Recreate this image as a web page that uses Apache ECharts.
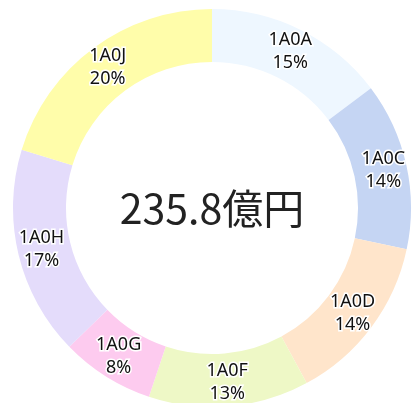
<!DOCTYPE html>
<html>
<head>
<meta charset="utf-8">
<script src="https://cdn.jsdelivr.net/npm/echarts@6/dist/echarts.min.js"></script>
<style>
  html, body { margin: 0; padding: 0; background: #fff; }
  #chart { width: 415px; height: 403px; }
</style>
</head>
<body>
<div id="chart"></div>
<script>
// 億円
const categories = ['1A0A', '1A0C', '1A0D', '1A0F', '1A0G', '1A0H', '1A0J'];
const values = [34.7, 32.1, 32.5, 30.7, 17.9, 40.1, 47.8];
const colors = ['#EEF7FF', '#C5D5F3', '#FFE5CB', '#EEF8C6', '#FDCBEF', '#E4DCFB', '#FFFDAA'];

const total = values.reduce((a, b) => a + b, 0);
const font = '"Noto Sans", "Noto Sans CJK JP", sans-serif';

const myChart = echarts.init(document.getElementById('chart'));
const option = {
    animation: false,
    color: colors,
    graphic: {
        elements: [{
            type: 'text',
            x: 212,
            y: 208,
            style: {
                text: total.toFixed(1) + '億円',
                font: '41px "Noto Sans CJK JP", sans-serif',
                fill: '#222',
                align: 'center',
                verticalAlign: 'middle'
            }
        }]
    },
    series: [{
        type: 'pie',
        center: [212, 208],
        radius: [146, 199],
        startAngle: 90,
        clockwise: true,
        silent: true,
        label: {
            show: true,
            position: 'inside',
            color: '#111',
            fontFamily: font,
            fontSize: 18,
            lineHeight: 23,
            textBorderColor: '#fff',
            textBorderWidth: 3,
            formatter: function (p) {
                return p.name + '\n' + Math.round(p.value / total * 100) + '%';
            }
        },
        labelLine: { show: false },
        data: categories.map((c, i) => ({ name: c, value: values[i] }))
    }]
};
myChart.setOption(option);
</script>
</body>
</html>
